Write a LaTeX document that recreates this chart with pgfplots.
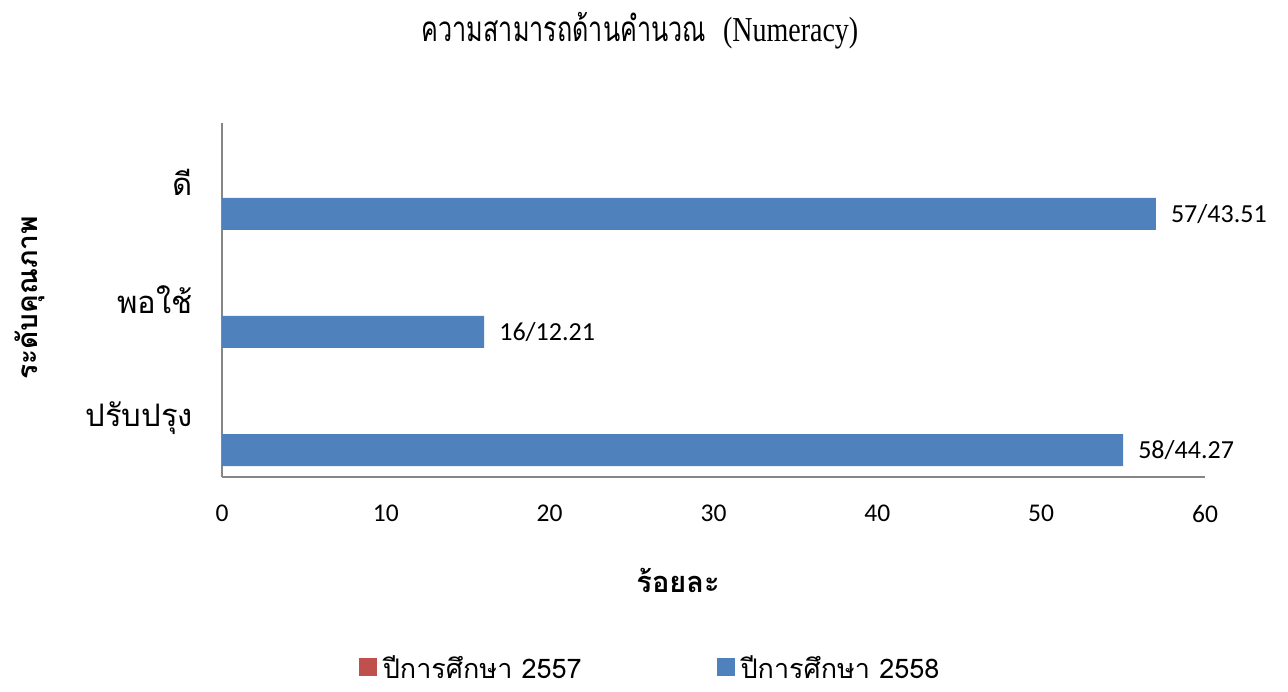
\documentclass[border=0pt]{standalone}
\usepackage{fontspec}
\usepackage{pgfplots}
\pgfplotsset{compat=1.18}
\setmainfont{Carlito}
\newfontfamily\thai[Script=Thai]{Loma}
\newfontfamily\thaicond[Script=Thai,FakeStretch=0.72]{Loma}
\newfontfamily\serifcond[FakeStretch=0.8]{Liberation Serif}
\definecolor{sblue}{HTML}{4F81BD}
\definecolor{sred}{HTML}{C0504D}
\definecolor{axgray}{HTML}{868686}
\begin{document}
\begin{tikzpicture}
\path[use as bounding box] (0,0) rectangle (1288pt,691pt);
\begin{axis}[
  at={(222pt,214pt)}, anchor=south west,
  scale only axis, width=983pt, height=354pt,
  xmin=0, xmax=60, ymin=-0.5, ymax=2.5,
  xtick={0,10,...,60}, ytick={0,1,2},
  yticklabels={ปรับปรุง,พอใช้,ดี},
  axis lines*=left,
  axis line style={-, axgray, line width=1.5pt},
  major tick length=0pt,
  /pgf/number format/assume math mode=true,
  xbar, bar width=32pt, bar shift=-32pt,
  tick label style={font=\fontsize{25.5}{30}\selectfont},
  yticklabel style={font=\thai\fontsize{31}{34}\selectfont, anchor=east, inner sep=0pt, xshift=-29pt},
  xticklabel style={anchor=north, inner sep=0pt, yshift=-28pt},
  xlabel={ร้อยละ}, ylabel={ระดับคุณภาพ},
  xlabel style={font=\thai\bfseries\fontsize{29}{32}\selectfont, at={(axis description cs:0.464,-0.291)}, anchor=center},
  ylabel style={font=\thai\bfseries\fontsize{28}{32}\selectfont, at={(axis description cs:-0.195,0.506)}, anchor=center, rotate=0},
  nodes near coords, point meta=explicit symbolic,
  every node near coord/.append style={font=\fontsize{26}{30}\selectfont, anchor=west, inner sep=0pt, xshift=15pt},
  legend columns=2,
  legend cell align=left,
  legend image code/.code={\fill[#1] (0pt,-9pt) rectangle (18pt,9pt); \path (23pt,0pt);},
  legend style={at={(axis description cs:0.435,-0.538)}, anchor=center, draw=none, fill=none,
    font=\thai\fontsize{27}{30}\selectfont,
    nodes={inner xsep=1pt, inner ysep=0pt},
    /tikz/every even column/.append style={column sep=134pt}},
]
\addlegendimage{fill=sred, draw=none}
\addplot[fill=sblue, draw=none] coordinates {(55,0) [58/44.27] (16,1) [16/12.21] (57,2) [57/43.51]};
\legend{ปีการศึกษา 2557, ปีการศึกษา 2558}
\end{axis}
\node[font=\fontsize{35}{40}\selectfont, anchor=center] at (640pt,660pt) {\thaicond ความสามารถด้านคำนวณ\ \ {\serifcond (Numeracy)}};
\end{tikzpicture}
\end{document}
